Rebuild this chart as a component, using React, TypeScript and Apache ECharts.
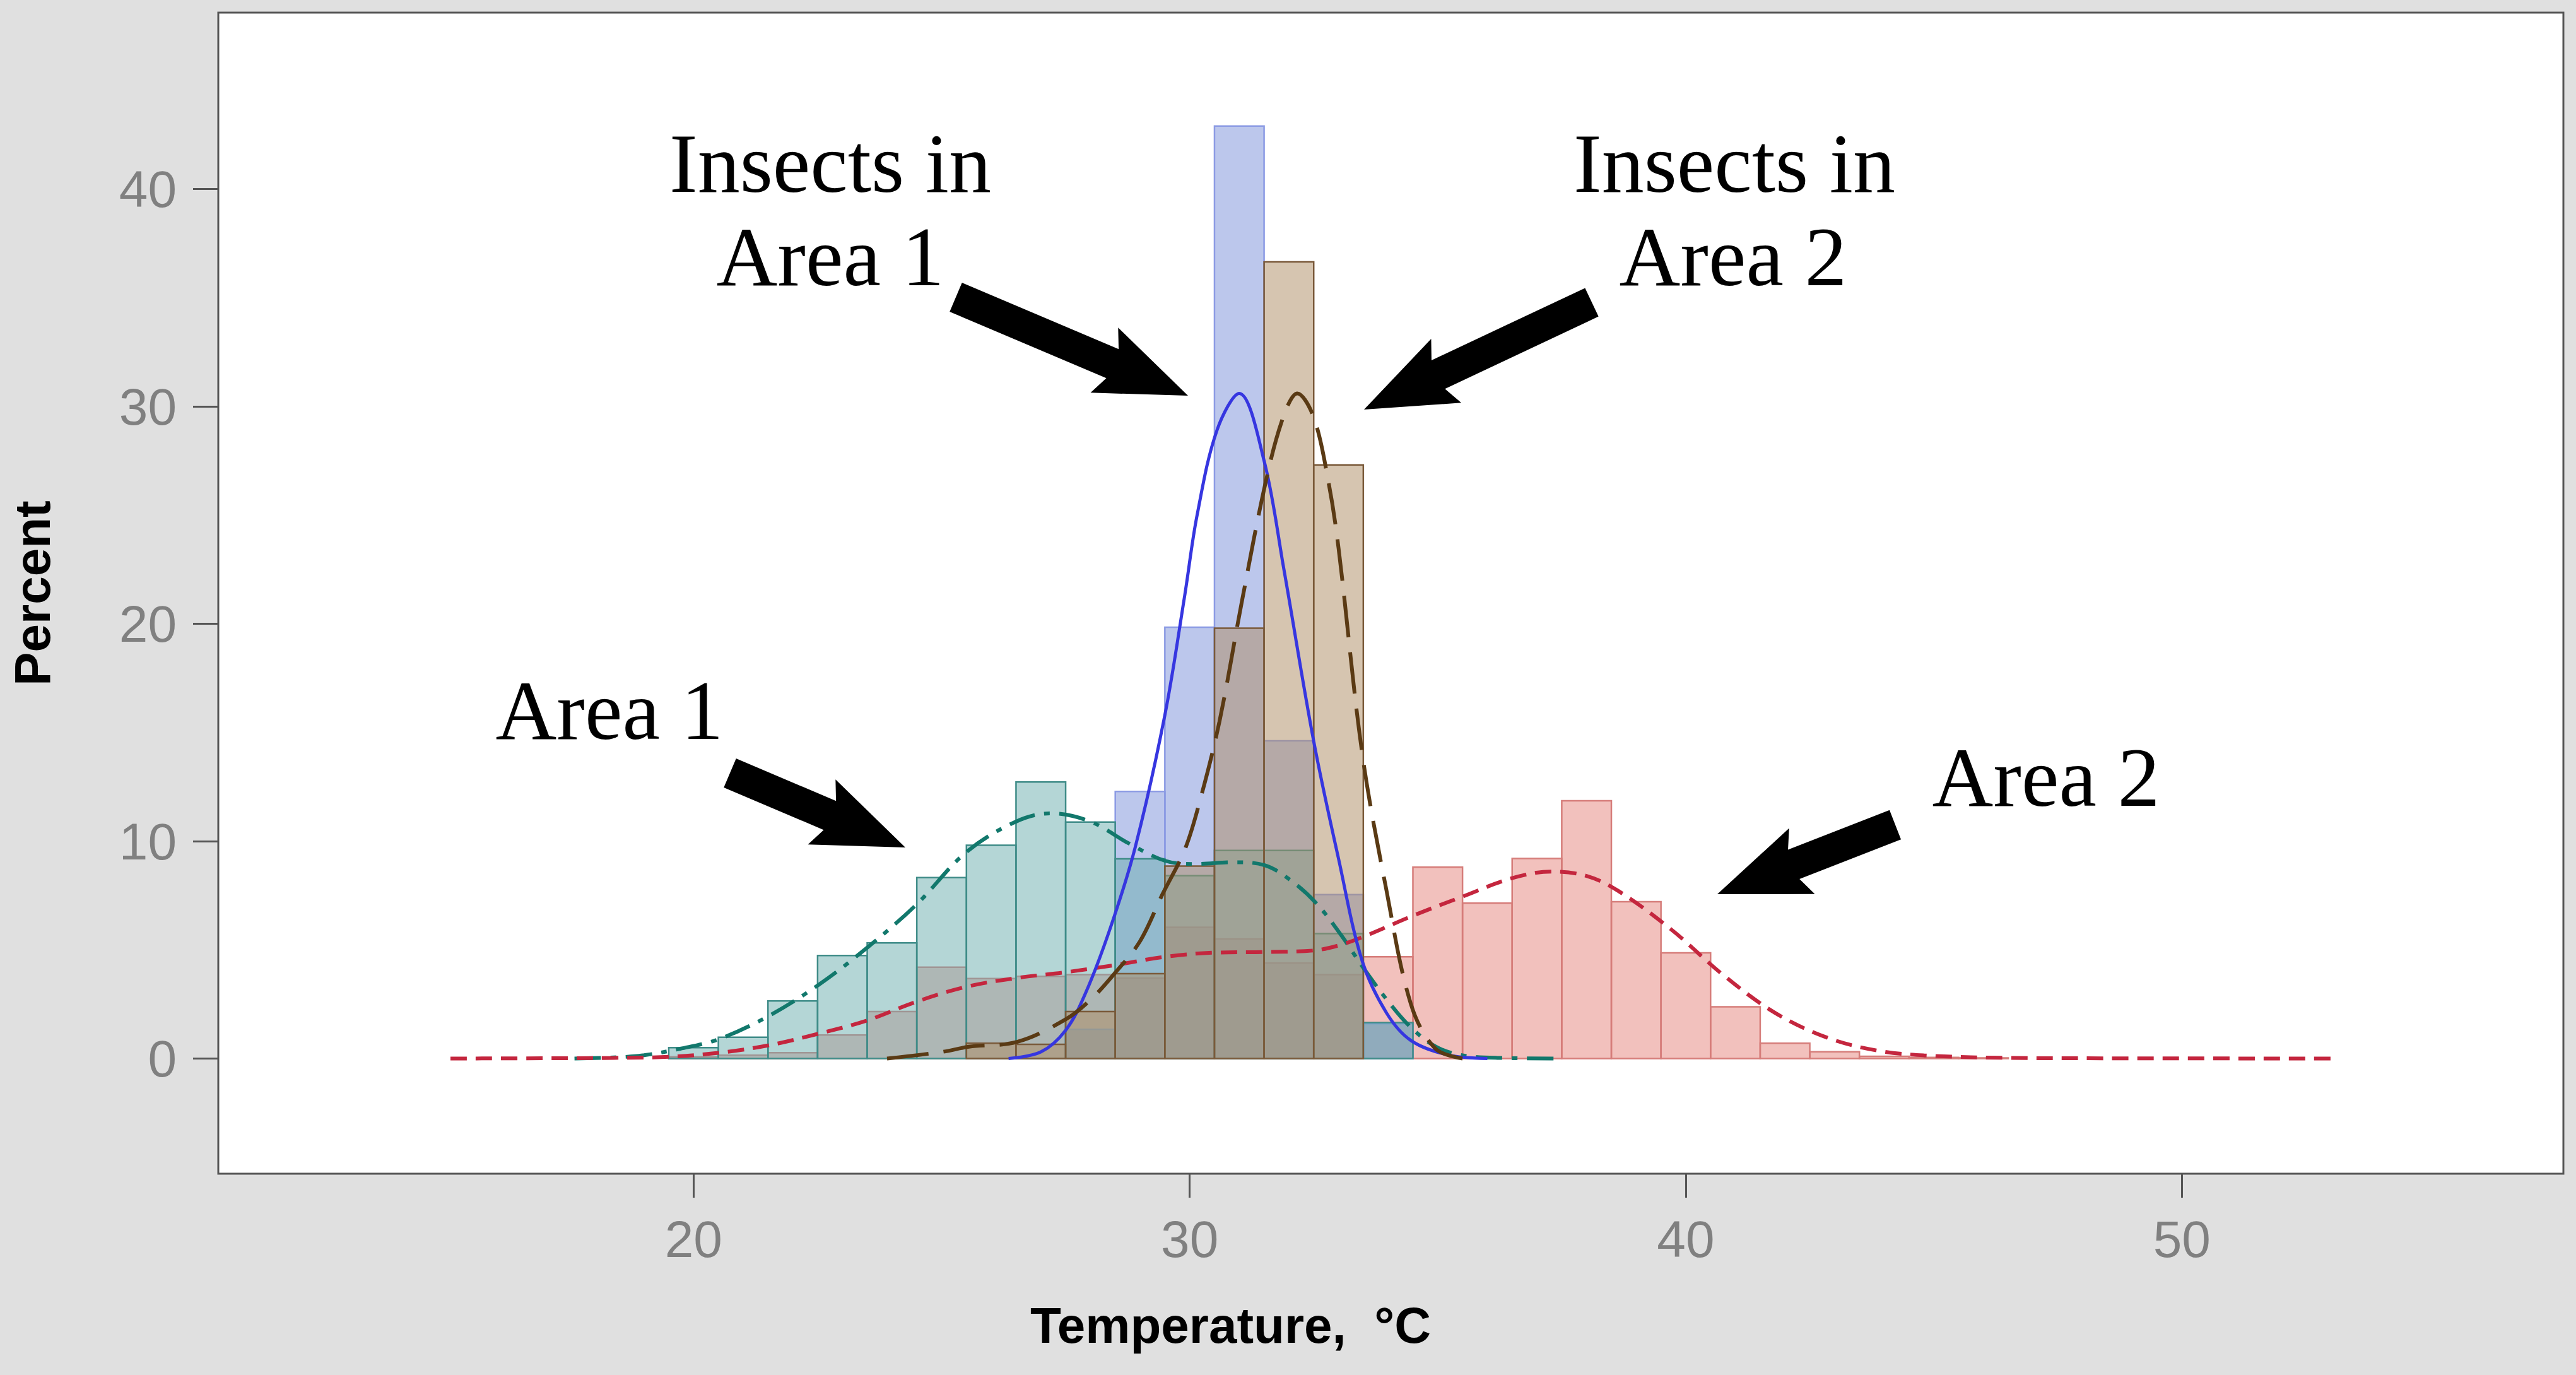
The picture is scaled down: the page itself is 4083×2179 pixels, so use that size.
import React, { useEffect, useRef } from "react";
import * as echarts from "echarts";

// ---------- Histogram data (bin centres, bin width 1 °C, percent) ----------
const area1Bins = [20, 21, 22, 23, 24, 25, 26, 27, 28, 29, 30, 31, 32, 33, 34];
const area1Pct = [0.5, 0.98, 2.65, 4.74, 5.32, 8.32, 9.81, 12.72, 10.88, 9.19, 8.41, 9.57, 9.57, 5.75, 1.65];

const area2Bins = [20, 21, 22, 23, 24, 25, 26, 27, 28, 29, 30, 31, 32, 33, 34, 35, 36, 37, 38, 39, 40, 41, 42, 43, 44, 45, 46];
const area2Pct = [0.08, 0.15, 0.27, 1.08, 2.16, 4.2, 3.68, 3.78, 3.86, 3.7, 6.04, 5.5, 4.39, 3.86, 4.68, 8.8, 7.15, 9.2, 11.86, 7.21, 4.86, 2.38, 0.7, 0.31, 0.1, 0.05, 0.03];

const insects1Bins = [28, 29, 30, 31, 32, 33, 34];
const insects1Pct = [1.34, 12.29, 19.84, 42.9, 14.62, 7.54, 1.6];

const insects2Bins = [26, 27, 28, 29, 30, 31, 32, 33];
const insects2Pct = [0.7, 0.65, 2.16, 3.9, 8.85, 19.8, 36.65, 27.31];

// ---------- Density curves ----------
const area1Curve = [
  [17.6, 0], [18.5, 0.06], [19.0, 0.15], [19.73, 0.45], [20.51, 0.89], [21.51, 1.95], [22.52, 3.39],
  [23.51, 5.12], [24.5, 7.1], [25.5, 9.5], [26.5, 10.9], [27.2, 11.28], [28.0, 10.9], [28.77, 9.9],
  [29.5, 9.1], [30.1, 8.95], [30.9, 9.03], [31.5, 8.9], [32.03, 8.21], [32.55, 7.15], [33.05, 5.69],
  [33.48, 4.24], [33.98, 2.69], [34.46, 1.43], [34.95, 0.56], [35.44, 0.17], [36.2, 0.03], [37.5, 0],
];
const area2Curve = [
  [15.1, 0], [17, 0.01], [18.4, 0.03], [19.5, 0.08], [20.5, 0.26], [21.5, 0.6], [22.5, 1.13], [23.5, 1.75],
  [24.5, 2.62], [25.5, 3.3], [26.5, 3.7], [27.5, 3.97], [28.5, 4.3], [29.5, 4.68], [30.5, 4.87], [31.5, 4.9],
  [32.5, 4.97], [33.0, 5.2], [33.5, 5.6], [34.5, 6.57], [35.5, 7.45], [36.5, 8.3], [37.3, 8.6], [38.0, 8.4],
  [38.64, 7.71], [39.7, 5.95], [40.74, 3.87], [41.8, 2.1], [42.85, 0.96], [43.9, 0.35], [45, 0.12],
  [46.5, 0.03], [48, 0.01], [53.1, 0],
];
const insects1Curve = [
  [26.35, 0], [27.0, 0.3], [27.5, 1.3], [27.9, 3.0], [28.4, 6.0], [28.9, 9.7], [29.5, 15.8], [29.9, 21.3],
  [30.15, 25.0], [30.55, 28.9], [31.0, 30.6], [31.5, 27.5], [31.9, 22.5], [32.5, 14.6], [33.0, 9.2],
  [33.48, 4.47], [33.97, 2.09], [34.46, 0.83], [35.2, 0.17], [36.0, 0],
];
const insects2Curve = [
  [23.9, 0], [25.0, 0.3], [25.55, 0.54], [26.53, 0.77], [27.5, 1.8], [28.0, 2.7], [28.47, 3.87], [29.0, 5.4],
  [29.45, 7.55], [29.9, 9.6], [30.2, 11.8], [30.6, 15.5], [31.05, 21.0], [31.54, 26.6], [31.9, 29.6],
  [32.17, 30.6], [32.5, 29.5], [32.8, 26.5], [33.0, 23.5], [33.48, 14.0], [33.97, 7.7], [34.46, 2.5],
  [34.95, 0.46], [35.5, 0],
];

const xTicks = [20, 30, 40, 50];
const yTicks = [0, 10, 20, 30, 40];

function pairs(c: number[], v: number[]) {
  return c.map((x, i) => [x, v[i]]);
}

function histSeries(name: string, data: number[][], fill: string, stroke: string, z: number) {
  return {
    type: "custom",
    name,
    z,
    data,
    encode: { x: 0, y: 1 },
    renderItem: (_params: any, api: any) => {
      const x = api.value(0);
      const y = api.value(1);
      const p0 = api.coord([x - 0.5, 0]);
      const p1 = api.coord([x + 0.5, y]);
      return {
        type: "rect",
        shape: { x: p0[0], y: p1[1], width: p1[0] - p0[0], height: p0[1] - p1[1] },
        style: { fill, stroke, lineWidth: 2.5 },
      };
    },
  };
}

function lineSeries(name: string, data: number[][], color: string, type: any, width: number) {
  return {
    type: "line",
    name,
    data,
    smooth: 0.35,
    showSymbol: false,
    symbol: "none",
    z: 5,
    lineStyle: { color, width, type },
  };
}

function arrow(tx: number, ty: number, px: number, py: number) {
  const shaft = 50, headW = 112, headL = 130, sweep = 14;
  const dx = px - tx, dy = py - ty;
  const len = Math.hypot(dx, dy);
  const ux = dx / len, uy = dy / len;
  const nx = -uy, ny = ux;
  const bx = px - ux * headL, by = py - uy * headL;
  const s = shaft / 2, h = headW / 2;
  const pts = [
    [tx + nx * s, ty + ny * s],
    [bx + nx * s, by + ny * s],
    [bx + nx * h - ux * sweep, by + ny * h - uy * sweep],
    [px, py],
    [bx - nx * h - ux * sweep, by - ny * h - uy * sweep],
    [bx - nx * s, by - ny * s],
    [tx - nx * s, ty - ny * s],
  ];
  return { type: "polygon", z: 100, shape: { points: pts }, style: { fill: "#000" } };
}

function label(text: string, x: number, y: number) {
  return {
    type: "text",
    z: 100,
    x,
    y,
    style: {
      text,
      fill: "#000",
      fontSize: 134,
      fontFamily: "Liberation Serif",
      textAlign: "center",
      textVerticalAlign: "middle",
      align: "center",
      verticalAlign: "middle",
    },
  };
}

export default function App() {
  const ref = useRef<HTMLDivElement>(null);
  useEffect(() => {
    if (!ref.current) return;
    const chart = echarts.init(ref.current, undefined, { renderer: "svg" });
    const axisLabelStyle = { color: "#808080", fontSize: 82, fontFamily: "Liberation Sans" };
    chart.setOption({
      animation: false,
      backgroundColor: "#e0e0e0",
      grid: {
        left: 346,
        right: 20,
        top: 20,
        bottom: 319,
        show: true,
        backgroundColor: "#ffffff",
        borderColor: "#555555",
        borderWidth: 3,
      },
      xAxis: {
        type: "value",
        min: 10.42,
        max: 57.69,
        name: "Temperature,  \u00B0C",
        nameLocation: "middle",
        nameGap: 200,
        nameTextStyle: {
          color: "#000",
          fontSize: 80,
          fontWeight: "bold",
          fontFamily: "Liberation Sans",
          padding: [0, 508, 0, 0],
        },
        axisLine: { show: false, onZero: false },
        axisTick: { show: true, inside: false, length: 38, customValues: xTicks, lineStyle: { color: "#555", width: 3 } },
        axisLabel: { ...axisLabelStyle, margin: 62, customValues: xTicks },
        splitLine: { show: false },
      },
      yAxis: {
        type: "value",
        min: -5.3,
        max: 48.12,
        name: "Percent",
        nameLocation: "middle",
        nameGap: 255,
        nameRotate: 90,
        nameTextStyle: { color: "#000", fontSize: 80, fontWeight: "bold", fontFamily: "Liberation Sans" },
        axisLine: { show: false, onZero: false },
        axisTick: { show: true, inside: false, length: 40, customValues: yTicks, lineStyle: { color: "#555", width: 3 } },
        axisLabel: { ...axisLabelStyle, margin: 66, customValues: yTicks },
        splitLine: { show: false },
      },
      series: [
        histSeries("Area 2", pairs(area2Bins, area2Pct), "rgba(229,131,123,0.5)", "#d67d7a", 2),
        histSeries("Insects in Area 1", pairs(insects1Bins, insects1Pct), "rgba(121,143,217,0.5)", "#8c9be4", 2),
        histSeries("Area 1", pairs(area1Bins, area1Pct), "rgba(105,173,173,0.5)", "#3f8c88", 2),
        histSeries("Insects in Area 2", pairs(insects2Bins, insects2Pct), "rgba(173,139,97,0.5)", "#7a5a3a", 2),
        lineSeries("Area 1 density", area1Curve, "#12786c", [42, 15, 9, 15], 6),
        lineSeries("Area 2 density", area2Curve, "#c4263e", [26, 14], 6),
        lineSeries("Insects in Area 1 density", insects1Curve, "#3636e0", "solid", 5),
        lineSeries("Insects in Area 2 density", insects2Curve, "#5a3a14", [66, 24], 6),
      ],
      graphic: [
        label("Insects in", 1316, 259),
        label("Area 1", 1316, 407),
        label("Insects in", 2749, 259),
        label("Area 2", 2747, 407),
        label("Area 1", 966, 1126),
        label("Area 2", 3243, 1232),
        arrow(1515, 471, 1883, 627),
        arrow(2523, 479, 2162, 649),
        arrow(1157, 1225, 1435, 1343),
        arrow(3004, 1307, 2722, 1417),
      ],
    });
    return () => chart.dispose();
  }, []);
  return (
    <div
      ref={ref}
      style={{ position: "fixed", left: 0, top: 0, width: "4083px", height: "2179px" }}
    />
  );
}
